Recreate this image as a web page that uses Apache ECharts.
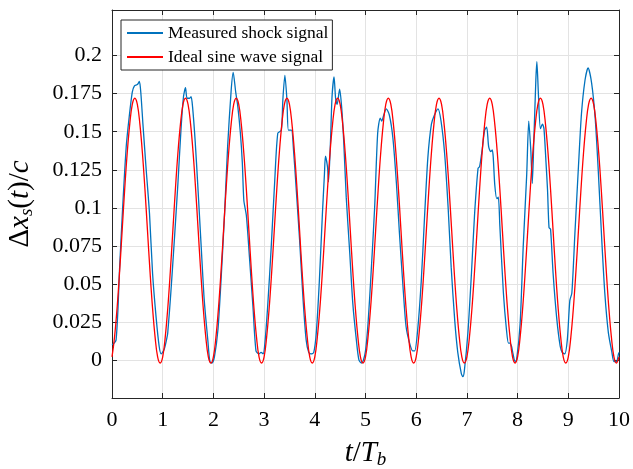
<!DOCTYPE html>
<html>
<head>
<meta charset="utf-8">
<script src="https://cdn.jsdelivr.net/npm/echarts@6/dist/echarts.min.js"></script>
<style>
html, body { margin: 0; padding: 0; background: #fff; }
#chart { width: 633px; height: 469px; }
</style>
</head>
<body>
<div id="chart"></div>
<script>
// tick values
var xTicks = [0, 1, 2, 3, 4, 5, 6, 7, 8, 9, 10];
var yTicks = [0, 0.025, 0.05, 0.075, 0.1, 0.125, 0.15, 0.175, 0.2];

// measured shock signal
var measuredT = [
  0.00, 0.04, 0.08, 0.12, 0.145, 0.21, 0.28, 0.34, 0.40, 0.44, 0.50, 0.54, 0.57, 0.61, 0.67, 0.74, 0.80, 0.87, 0.93, 0.97,
  1.03, 1.08, 1.10, 1.16, 1.23, 1.30, 1.36, 1.41, 1.45, 1.48, 1.53, 1.56, 1.59, 1.64, 1.69, 1.76, 1.82, 1.89, 1.93, 1.97,
  2.02, 2.09, 2.15, 2.22, 2.28, 2.35, 2.39, 2.44, 2.48, 2.53, 2.57, 2.60, 2.65, 2.71, 2.78, 2.84, 2.90, 2.94, 2.98,
  3.01, 3.07, 3.14, 3.21, 3.27, 3.34, 3.37, 3.41, 3.45, 3.48, 3.54, 3.58, 3.63, 3.70, 3.77, 3.83, 3.88, 3.93, 3.98,
  4.03, 4.09, 4.15, 4.19, 4.21, 4.25, 4.27, 4.31, 4.34, 4.38, 4.41, 4.44, 4.49, 4.53, 4.57, 4.62, 4.69, 4.75, 4.82, 4.87, 4.92, 4.96,
  5.00, 5.05, 5.11, 5.18, 5.24, 5.29, 5.32, 5.36, 5.41, 5.47, 5.54, 5.61, 5.67, 5.74, 5.80, 5.87, 5.93, 5.97,
  6.03, 6.10, 6.16, 6.23, 6.30, 6.36, 6.43, 6.49, 6.56, 6.63, 6.69, 6.76, 6.82, 6.89, 6.92, 6.95,
  7.02, 7.09, 7.15, 7.22, 7.25, 7.30, 7.35, 7.39, 7.43, 7.47, 7.50, 7.52, 7.55, 7.59, 7.62, 7.65, 7.72, 7.78, 7.82, 7.85, 7.88, 7.91, 7.95, 7.98,
  8.05, 8.11, 8.18, 8.22, 8.26, 8.29, 8.32, 8.36, 8.38, 8.41, 8.45, 8.49, 8.52, 8.56, 8.59, 8.62, 8.65, 8.70, 8.77, 8.84, 8.88, 8.93, 8.98,
  9.03, 9.07, 9.13, 9.20, 9.26, 9.33, 9.39, 9.46, 9.53, 9.59, 9.66, 9.72, 9.79, 9.86, 9.90, 9.95, 9.99, 10.00
];
var measuredY = [
  0.010, 0.011, 0.013, 0.035, 0.057, 0.100, 0.140, 0.160, 0.176, 0.180, 0.181, 0.183, 0.175, 0.155, 0.127, 0.096, 0.057, 0.028, 0.009, 0.004,
  0.007, 0.014, 0.018, 0.044, 0.079, 0.116, 0.151, 0.173, 0.179, 0.172, 0.172, 0.173, 0.166, 0.144, 0.116, 0.074, 0.039, 0.013, -0.001, -0.002,
  0.002, 0.020, 0.052, 0.096, 0.140, 0.177, 0.189, 0.176, 0.167, 0.150, 0.130, 0.105, 0.095, 0.068, 0.035, 0.006, 0.004, 0.005, 0.004,
  0.009, 0.035, 0.074, 0.118, 0.149, 0.151, 0.171, 0.187, 0.171, 0.151, 0.151, 0.138, 0.114, 0.079, 0.039, 0.013, 0.005, 0.004, 0.005,
  0.018, 0.052, 0.096, 0.122, 0.134, 0.127, 0.117, 0.144, 0.173, 0.186, 0.172, 0.168, 0.178, 0.166, 0.144, 0.107, 0.070, 0.037, 0.013, 0.000, -0.002, 0.000,
  0.006, 0.024, 0.057, 0.100, 0.149, 0.159, 0.157, 0.161, 0.165, 0.161, 0.146, 0.116, 0.083, 0.048, 0.022, 0.011, 0.006, 0.006,
  0.020, 0.052, 0.091, 0.133, 0.155, 0.161, 0.165, 0.157, 0.136, 0.100, 0.061, 0.026, 0.005, -0.009, -0.011, -0.007,
  0.018, 0.057, 0.095, 0.126, 0.127, 0.138, 0.151, 0.153, 0.140, 0.137, 0.138, 0.133, 0.115, 0.106, 0.107, 0.088, 0.044, 0.020, 0.011, 0.011, 0.009, 0.004, -0.001, 0.000,
  0.024, 0.074, 0.122, 0.157, 0.138, 0.116, 0.144, 0.184, 0.196, 0.175, 0.152, 0.155, 0.152, 0.130, 0.112, 0.087, 0.086, 0.057, 0.028, 0.009, 0.005, 0.004, 0.013,
  0.039, 0.044, 0.083, 0.127, 0.162, 0.184, 0.192, 0.182, 0.159, 0.125, 0.079, 0.044, 0.018, 0.005, -0.001, -0.001, 0.004, 0.005
];

// ideal sine wave signal
var idealT = [
  0, 0.05, 0.1, 0.15, 0.2, 0.25, 0.3, 0.35, 0.4, 0.45, 0.5, 0.55, 0.6, 0.65, 0.7, 0.75, 0.8, 0.85, 0.9, 0.95,
  1, 1.05, 1.1, 1.15, 1.2, 1.25, 1.3, 1.35, 1.4, 1.45, 1.5, 1.55, 1.6, 1.65, 1.7, 1.75, 1.8, 1.85, 1.9, 1.95,
  2, 2.05, 2.1, 2.15, 2.2, 2.25, 2.3, 2.35, 2.4, 2.45, 2.5, 2.55, 2.6, 2.65, 2.7, 2.75, 2.8, 2.85, 2.9, 2.95,
  3, 3.05, 3.1, 3.15, 3.2, 3.25, 3.3, 3.35, 3.4, 3.45, 3.5, 3.55, 3.6, 3.65, 3.7, 3.75, 3.8, 3.85, 3.9, 3.95,
  4, 4.05, 4.1, 4.15, 4.2, 4.25, 4.3, 4.35, 4.4, 4.45, 4.5, 4.55, 4.6, 4.65, 4.7, 4.75, 4.8, 4.85, 4.9, 4.95,
  5, 5.05, 5.1, 5.15, 5.2, 5.25, 5.3, 5.35, 5.4, 5.45, 5.5, 5.55, 5.6, 5.65, 5.7, 5.75, 5.8, 5.85, 5.9, 5.95,
  6, 6.05, 6.1, 6.15, 6.2, 6.25, 6.3, 6.35, 6.4, 6.45, 6.5, 6.55, 6.6, 6.65, 6.7, 6.75, 6.8, 6.85, 6.9, 6.95,
  7, 7.05, 7.1, 7.15, 7.2, 7.25, 7.3, 7.35, 7.4, 7.45, 7.5, 7.55, 7.6, 7.65, 7.7, 7.75, 7.8, 7.85, 7.9, 7.95,
  8, 8.05, 8.1, 8.15, 8.2, 8.25, 8.3, 8.35, 8.4, 8.45, 8.5, 8.55, 8.6, 8.65, 8.7, 8.75, 8.8, 8.85, 8.9, 8.95,
  9, 9.05, 9.1, 9.15, 9.2, 9.25, 9.3, 9.35, 9.4, 9.45, 9.5, 9.55, 9.6, 9.65, 9.7, 9.75, 9.8, 9.85, 9.9, 9.95,
  10
];
var idealY = [
  0.002, 0.015, 0.034, 0.058, 0.085, 0.112, 0.136, 0.155, 0.168, 0.172, 0.168, 0.155, 0.136, 0.112, 0.085, 0.058, 0.034, 0.015, 0.002, -0.002,
  0.002, 0.015, 0.034, 0.058, 0.085, 0.112, 0.136, 0.155, 0.168, 0.172, 0.168, 0.155, 0.136, 0.112, 0.085, 0.058, 0.034, 0.015, 0.002, -0.002,
  0.002, 0.015, 0.034, 0.058, 0.085, 0.112, 0.136, 0.155, 0.168, 0.172, 0.168, 0.155, 0.136, 0.112, 0.085, 0.058, 0.034, 0.015, 0.002, -0.002,
  0.002, 0.015, 0.034, 0.058, 0.085, 0.112, 0.136, 0.155, 0.168, 0.172, 0.168, 0.155, 0.136, 0.112, 0.085, 0.058, 0.034, 0.015, 0.002, -0.002,
  0.002, 0.015, 0.034, 0.058, 0.085, 0.112, 0.136, 0.155, 0.168, 0.172, 0.168, 0.155, 0.136, 0.112, 0.085, 0.058, 0.034, 0.015, 0.002, -0.002,
  0.002, 0.015, 0.034, 0.058, 0.085, 0.112, 0.136, 0.155, 0.168, 0.172, 0.168, 0.155, 0.136, 0.112, 0.085, 0.058, 0.034, 0.015, 0.002, -0.002,
  0.002, 0.015, 0.034, 0.058, 0.085, 0.112, 0.136, 0.155, 0.168, 0.172, 0.168, 0.155, 0.136, 0.112, 0.085, 0.058, 0.034, 0.015, 0.002, -0.002,
  0.002, 0.015, 0.034, 0.058, 0.085, 0.112, 0.136, 0.155, 0.168, 0.172, 0.168, 0.155, 0.136, 0.112, 0.085, 0.058, 0.034, 0.015, 0.002, -0.002,
  0.002, 0.015, 0.034, 0.058, 0.085, 0.112, 0.136, 0.155, 0.168, 0.172, 0.168, 0.155, 0.136, 0.112, 0.085, 0.058, 0.034, 0.015, 0.002, -0.002,
  0.002, 0.015, 0.034, 0.058, 0.085, 0.112, 0.136, 0.155, 0.168, 0.172, 0.168, 0.155, 0.136, 0.112, 0.085, 0.058, 0.034, 0.015, 0.002, -0.002,
  0.002
];

var serif = '"Liberation Serif", "DejaVu Serif", serif';
var axisColor = '#262626';
var gridColor = '#e3e3e3';

function pairs(xs, ys) {
  return xs.map(function (x, i) { return [x, ys[i]]; });
}

var chart = echarts.init(document.getElementById('chart'), null, { renderer: 'canvas' });

var mathRich = {
  r: { fontFamily: serif, fontSize: 29, color: '#000', lineHeight: 32 },
  i: { fontFamily: serif, fontSize: 29, fontStyle: 'italic', color: '#000', lineHeight: 32 },
  s: { fontFamily: serif, fontSize: 19, fontStyle: 'italic', color: '#000', lineHeight: 13, verticalAlign: 'bottom' }
};

var option = {
  animation: false,
  backgroundColor: '#fff',
  grid: { left: 112, right: 14, top: 10, bottom: 71, containLabel: false, outerBoundsMode: 'none' },
  legend: {
    orient: 'vertical',
    left: 121,
    top: 20,
    padding: [4, 4, 4, 5],
    itemWidth: 36,
    itemHeight: 14,
    itemGap: 6,
    backgroundColor: '#fff',
    borderColor: axisColor,
    borderWidth: 1,
    borderRadius: 0,
    itemStyle: { opacity: 0 },
    textStyle: { fontFamily: serif, fontSize: 17.5, color: '#000' },
    data: ['Measured shock signal', 'Ideal sine wave signal']
  },
  xAxis: [
    {
      type: 'value', min: 0, max: 10, interval: 1, position: 'bottom',
      axisLine: { show: true, onZero: false, lineStyle: { color: axisColor, width: 1 } },
      axisTick: { show: true, inside: true, length: 5, lineStyle: { color: axisColor } },
      axisLabel: { color: '#000', fontFamily: serif, fontSize: 22, margin: 11 },
      splitLine: { show: true, lineStyle: { color: gridColor, width: 1 } },
      name: '{i|t}{r|/}{i|T}{s|b}',
      nameLocation: 'middle',
      nameGap: 39,
      nameTextStyle: { rich: mathRich }
    },
    {
      type: 'value', min: 0, max: 10, interval: 1, position: 'top',
      axisLine: { show: true, onZero: false, lineStyle: { color: axisColor, width: 1 } },
      axisTick: { show: true, inside: true, length: 5, lineStyle: { color: axisColor } },
      axisLabel: { show: false },
      splitLine: { show: false }
    }
  ],
  yAxis: [
    {
      type: 'value', min: -0.025, max: 0.23, position: 'left',
      axisLine: { show: true, onZero: false, lineStyle: { color: axisColor, width: 1 } },
      axisTick: { show: true, inside: true, length: 5, customValues: yTicks, lineStyle: { color: axisColor } },
      axisLabel: { color: '#000', fontFamily: serif, fontSize: 22, margin: 10, customValues: yTicks },
      splitLine: { show: true, customValues: yTicks, lineStyle: { color: gridColor, width: 1 } },
      name: '{r|Δ}{i|x}{s|s}{r|(}{i|t}{r|)/}{i|c}',
      nameLocation: 'middle',
      nameRotate: 90,
      nameGap: 76,
      nameTextStyle: { rich: mathRich }
    },
    {
      type: 'value', min: -0.025, max: 0.23, position: 'right',
      axisLine: { show: true, onZero: false, lineStyle: { color: axisColor, width: 1 } },
      axisTick: { show: true, inside: true, length: 5, customValues: yTicks, lineStyle: { color: axisColor } },
      axisLabel: { show: false },
      splitLine: { show: false }
    }
  ],
  series: [
    {
      name: 'Measured shock signal',
      type: 'line',
      data: pairs(measuredT, measuredY),
      symbol: 'none',
      smooth: 0.25,
      color: '#0072BD',
      lineStyle: { color: '#0072BD', width: 1.3 }
    },
    {
      name: 'Ideal sine wave signal',
      type: 'line',
      data: pairs(idealT, idealY),
      symbol: 'none',
      smooth: 0.4,
      color: '#FF0000',
      lineStyle: { color: '#FF0000', width: 1.3 }
    }
  ]
};

chart.setOption(option);
</script>
</body>
</html>
